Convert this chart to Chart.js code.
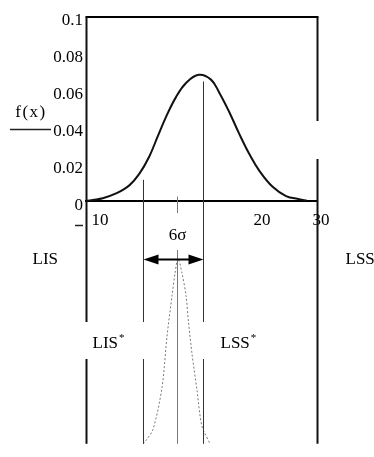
<!DOCTYPE html>
<html>
<head>
<meta charset="utf-8">
<script src="https://cdn.jsdelivr.net/npm/chart.js@4.4.0/dist/chart.umd.min.js"></script>
<style>
  html, body { margin: 0; padding: 0; background: #fff; }
  #wrap { width: 374px; height: 457px; }
</style>
</head>
<body>
<div id="wrap"><canvas id="chart" width="374" height="457"></canvas></div>
<script>
// wide process curve f(x)
const upperX = [10.09, 10.58, 11.45, 12.6, 13.75, 14.61, 15.48, 16.21, 16.93, 17.79, 18.66, 19.76, 20.82, 21.54, 22.41, 23.25, 24.14, 25.0, 26.16, 27.32, 28.47, 29.13];
const upperY = [0.0002, 0.0007, 0.0016, 0.0042, 0.0086, 0.0148, 0.0243, 0.0352, 0.0458, 0.0565, 0.0642, 0.0686, 0.066, 0.0589, 0.0483, 0.0368, 0.0256, 0.0166, 0.0078, 0.0028, 0.0011, 0.0003];

// narrow (improved) process curve, own vertical scale
const lowerX = [14.94, 15.11, 15.8, 16.58, 17.01, 17.45, 17.71, 17.97, 18.31, 18.66, 18.87, 19.18, 19.61, 20.04, 20.74];
const lowerY = [0, 0.005, 0.036, 0.14, 0.266, 0.368, 0.424, 0.46, 0.424, 0.368, 0.303, 0.223, 0.133, 0.044, 0];
const lowerMean = 17.9;

// specification limits
const limitNames = ['LIS', 'LSS', 'LIS*', 'LSS*'];
const limitValues = [10, 30, 14.94, 20.13];

// axis ticks
const yTickVals = [0, 0.02, 0.04, 0.06, 0.08, 0.1];
const yTickLabels = ['0', '0.02', '0.04', '0.06', '0.08', '0.1'];
const xTickVals = [10.87, 24.89, 30];
const xTickLabels = ['10', '20', '30'];

const FONT = '"Liberation Serif", "DejaVu Serif", serif';

function toPoints(xs, ys) {
    return xs.map((v, i) => ({ x: v, y: ys[i] }));
}

// limit lines, arrow and text labels
const annotate = {
    id: 'annotate',
    afterDatasetsDraw(chart) {
        const { ctx, chartArea: a, scales: { x, y } } = chart;
        const px = v => Math.round(x.getPixelForValue(v)) + 0.5;
        const py = v => y.getPixelForValue(v);
        const [lis, lss, lisS, lssS] = limitValues.map(px);
        const gapTop = 322, gapBot = 359;

        function vline(xp, segs, w, color, dash) {
            ctx.save();
            ctx.strokeStyle = color;
            ctx.lineWidth = w;
            ctx.setLineDash(dash || []);
            segs.forEach(s => {
                ctx.beginPath();
                ctx.moveTo(xp, s[0]);
                ctx.lineTo(xp, s[1]);
                ctx.stroke();
            });
            ctx.restore();
        }

        // box top
        ctx.save();
        ctx.strokeStyle = '#000';
        ctx.lineWidth = 2;
        ctx.beginPath();
        ctx.moveTo(lis - 1, py(0.1));
        ctx.lineTo(lss + 1, py(0.1));
        ctx.stroke();
        ctx.restore();

        vline(lis, [[py(0.1), gapTop], [gapBot, a.bottom]], 2, '#111');
        vline(lss, [[py(0.1), 121], [159, a.bottom]], 2, '#111');
        vline(lisS, [[py(0.0116), gapTop], [gapBot, a.bottom]], 1, '#333');
        vline(lssS, [[py(0.065), gapTop], [gapBot, a.bottom]], 1, '#333');
        vline(px(lowerMean), [[py(0.0025), 213], [250, a.bottom]], 1, '#777');

        // 6 sigma arrow
        const ay = 259.5;
        ctx.save();
        ctx.strokeStyle = '#000';
        ctx.fillStyle = '#000';
        ctx.lineWidth = 2;
        ctx.beginPath();
        ctx.moveTo(lisS + 10, ay);
        ctx.lineTo(lssS - 10, ay);
        ctx.stroke();
        ctx.beginPath();
        ctx.moveTo(lisS, ay);
        ctx.lineTo(lisS + 15, ay - 5);
        ctx.lineTo(lisS + 15, ay + 5);
        ctx.closePath();
        ctx.fill();
        ctx.beginPath();
        ctx.moveTo(lssS, ay);
        ctx.lineTo(lssS - 15, ay - 5);
        ctx.lineTo(lssS - 15, ay + 5);
        ctx.closePath();
        ctx.fill();
        ctx.restore();

        // texts
        ctx.save();
        ctx.fillStyle = '#000';
        ctx.font = '17px ' + FONT;
        ctx.textBaseline = 'middle';
        ctx.textAlign = 'center';
        ctx.fillText('6σ', px(lowerMean), 236);

        ctx.textAlign = 'left';
        ctx.fillText(limitNames[0], lis - 54, 260);
        ctx.fillText(limitNames[1], lss + 28, 260);

        function starLabel(txt, xp, yp) {
            ctx.font = '17px ' + FONT;
            ctx.fillText(txt, xp, yp);
            const w = ctx.measureText(txt).width;
            ctx.font = '11px ' + FONT;
            ctx.fillText('*', xp + w + 1, yp - 6);
        }
        starLabel(limitNames[2].replace('*', ''), lis + 6, 344);
        starLabel(limitNames[3].replace('*', ''), lssS + 17, 344);

        // f(x) axis label with placeholder underline
        ctx.font = '17px ' + FONT;
        ctx.textAlign = 'center';
        ctx.letterSpacing = '1.5px';
        ctx.fillText('f(x)', 31, 113);
        ctx.letterSpacing = '0px';
        ctx.strokeStyle = '#222';
        ctx.lineWidth = 1.5;
        ctx.beginPath();
        ctx.moveTo(10, 129.5);
        ctx.lineTo(51, 129.5);
        ctx.stroke();
        ctx.beginPath();
        ctx.moveTo(75, 225.5);
        ctx.lineTo(83, 225.5);
        ctx.stroke();
        ctx.restore();
    }
};

new Chart(document.getElementById('chart'), {
    type: 'line',
    data: {
        datasets: [{
            data: toPoints(upperX, upperY),
            borderColor: '#111',
            borderWidth: 2,
            pointRadius: 0,
            tension: 0.4,
            yAxisID: 'y'
        }, {
            data: toPoints(lowerX, lowerY),
            borderColor: '#777',
            borderWidth: 1,
            borderDash: [2, 2],
            pointRadius: 0,
            tension: 0.3,
            yAxisID: 'y2'
        }]
    },
    options: {
        responsive: false,
        animation: false,
        devicePixelRatio: 1,
        layout: { padding: { top: 17, right: 57, bottom: 2, left: 0 } },
        plugins: {
            legend: { display: false },
            tooltip: { enabled: false }
        },
        scales: {
            x: {
                type: 'linear',
                min: 10,
                max: 30,
                position: { y: 0 },
                grid: { display: false, drawTicks: false },
                border: { display: true, color: '#000', width: 2 },
                afterBuildTicks: axis => {
                    axis.ticks = xTickVals.map(v => ({ value: v }));
                },
                ticks: {
                    autoSkip: false,
                    maxRotation: 0,
                    padding: 9,
                    labelOffset: 4,
                    color: '#000',
                    font: { family: FONT, size: 17 },
                    callback: (v, i) => xTickLabels[i]
                }
            },
            y: {
                type: 'linear',
                position: 'left',
                min: -0.1317,
                max: 0.1,
                grid: { display: false, drawTicks: false },
                border: { display: false },
                afterBuildTicks: axis => {
                    axis.ticks = yTickVals.map(v => ({ value: v }));
                },
                afterFit: axis => { axis.width = 86; },
                ticks: {
                    autoSkip: false,
                    padding: 3,
                    labelOffset: 4,
                    color: '#000',
                    font: { family: FONT, size: 17 },
                    callback: (v, i) => yTickLabels[i]
                }
            },
            y2: {
                type: 'linear',
                display: false,
                min: 0,
                max: 1.06
            }
        }
    },
    plugins: [annotate]
});
</script>
</body>
</html>
